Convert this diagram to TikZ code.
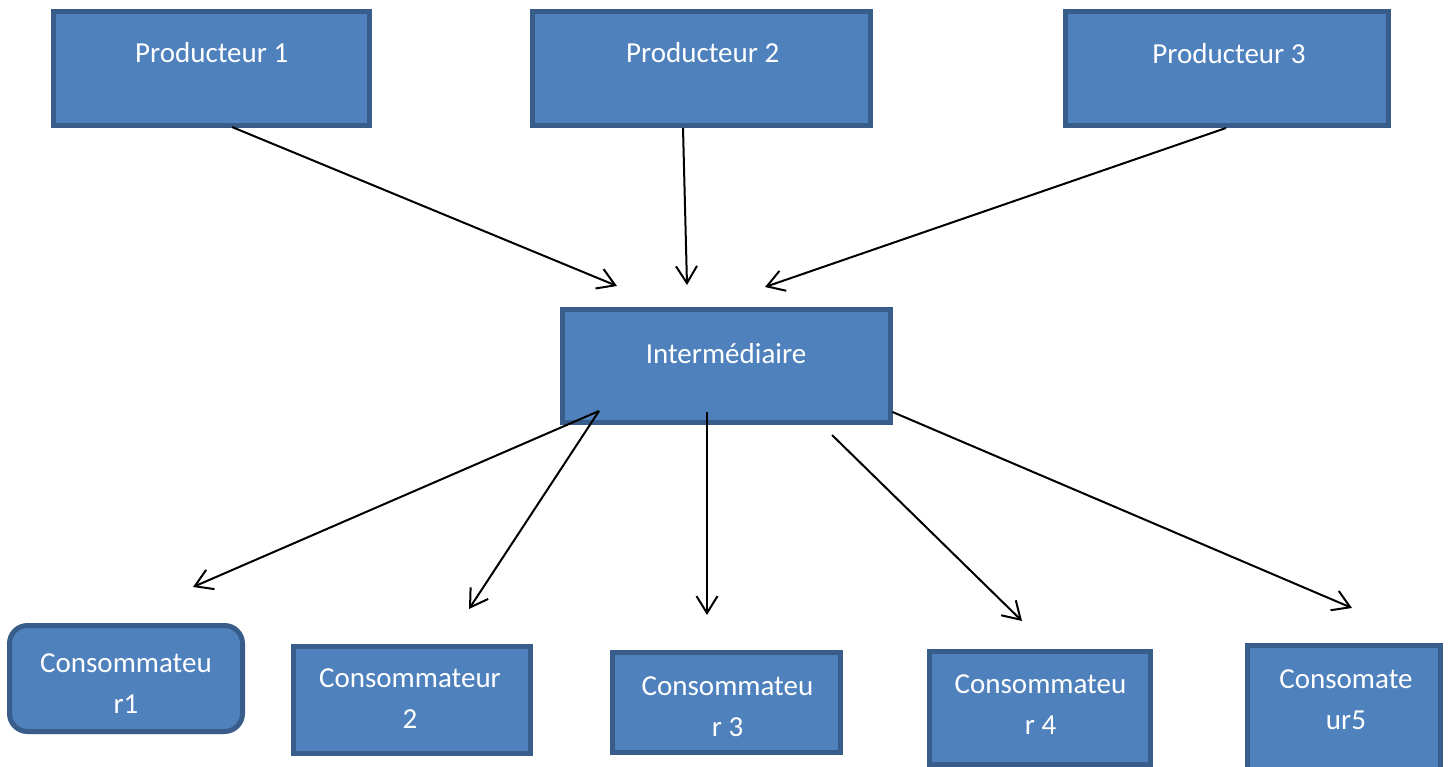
\documentclass[tikz,border=0pt]{standalone}
\usepackage{fontspec}
\setmainfont{Carlito}
\usetikzlibrary{arrows.meta}
\definecolor{boxfill}{HTML}{4F81BD}
\definecolor{boxline}{HTML}{385D8A}
\begin{document}
\begin{tikzpicture}[x=1pt,y=-1pt,
  box/.style={draw=boxline, fill=boxfill, line width=5pt, inner sep=0pt, outer sep=0pt},
  lbl/.style={text=white, font=\fontsize{29}{41}\selectfont, align=center, anchor=base, inner sep=0pt},
  flow/.style={line width=2pt, -{Straight Barb[length=17pt,width=21pt]}}]
\clip (0,0) rectangle (1453,767);
\fill[white] (0,0) rectangle (1453,767);

% producers
\node[box, minimum width=316pt, minimum height=114pt] (p1) at (211.5,68.5) {};
\node[box, minimum width=338pt, minimum height=114pt] (p2) at (701.5,68.5) {};
\node[box, minimum width=323pt, minimum height=114pt] (p3) at (1227,68.5) {};
\node[lbl] (p1t) at (211.7,63) {Producteur 1};
\node[lbl] (p2t) at (702.7,63) {Producteur 2};
\node[lbl] (p3t) at (1229,64) {Producteur 3};

% intermediary
\node[box, minimum width=328pt, minimum height=113pt] (mid) at (726.5,366) {};
\node[lbl] (midt) at (726,363) {Intermédiaire};

% consumers (labels anchored at the baseline of their last line)
\node[box, rounded corners=18pt, minimum width=233pt, minimum height=106pt] (c1) at (126,678.5) {};
\node[box, minimum width=237pt, minimum height=107pt] (c2) at (412,700) {};
\node[box, minimum width=228pt, minimum height=100pt] (c3) at (726.5,702.5) {};
\node[box, minimum width=221pt, minimum height=113pt] (c4) at (1040,708) {};
\node[box, minimum width=193pt, minimum height=140pt] (c5) at (1344,715.5) {};
\node[lbl] (c1t) at (126,713) {Consommateu\\r1};
\node[lbl] (c2t) at (410,728) {Consommateur\\2};
\node[lbl] (c3t) at (727.5,736) {Consommateu\\r 3};
\node[lbl] (c4t) at (1040.5,734) {Consommateu\\r 4};
\node[lbl] (c5t) at (1346,729) {Consomate\\ur5};

% arrow tips
\coordinate (a1) at (617,286);
\coordinate (a2) at (687,285);
\coordinate (a3) at (765,287);
\coordinate (b1) at (193,587);
\coordinate (b2) at (469,609);
\coordinate (b3) at (707,615);
\coordinate (b4) at (1022,621);
\coordinate (b5) at (1352,608);

% flows
\draw[flow] ([xshift=20.5pt,yshift=-1.5pt]p1.south) -- (a1);
\draw[flow] ([xshift=-18.5pt,yshift=-2.5pt]p2.south) -- (a2);
\draw[flow] ([xshift=-1pt,yshift=-2.5pt]p3.south) -- (a3);
\draw[flow] ([xshift=-127.5pt,yshift=11.5pt]mid.south) -- (b1);
\draw[flow] ([xshift=-127.5pt,yshift=11.5pt]mid.south) -- (b2);
\draw[flow] ([xshift=-19.5pt,yshift=10.5pt]mid.south) -- (b3);
\draw[flow] ([xshift=105.5pt,yshift=-12.5pt]mid.south) -- (b4);
\draw[flow] ([xshift=2pt,yshift=-46pt]mid.east) -- (b5);
\end{tikzpicture}
\end{document}
